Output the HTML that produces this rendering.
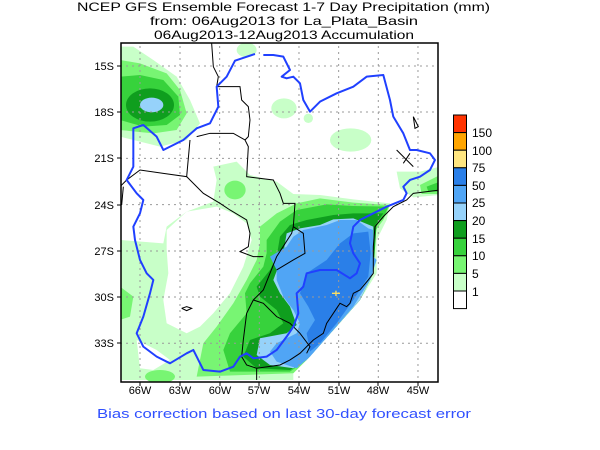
<!DOCTYPE html>
<html><head><meta charset="utf-8"><style>html,body{margin:0;padding:0;background:#fff}svg{display:block}</style></head>
<body>
<svg width="600" height="450" xmlns="http://www.w3.org/2000/svg" font-family="Liberation Sans, sans-serif">
<rect width="600" height="450" fill="#fff"/>
<g font-size="12" fill="#000">
<text x="77" y="11" textLength="413" lengthAdjust="spacingAndGlyphs">NCEP GFS Ensemble Forecast 1-7 Day Precipitation (mm)</text>
<text x="150" y="25" textLength="268" lengthAdjust="spacingAndGlyphs">from: 06Aug2013   for La_Plata_Basin</text>
<text x="154" y="39" textLength="260" lengthAdjust="spacingAndGlyphs">06Aug2013-12Aug2013 Accumulation</text>
</g>
<clipPath id="c"><rect x="121" y="43" width="317" height="339"/></clipPath>
<g clip-path="url(#c)">
<g transform="translate(120,40) scale(0.3333)">
<g fill="#c8ffc8">
<polygon points="0,20 40,20 100,60 170,110 210,180 240,250 200,300 120,320 0,290"/>
<ellipse cx="380" cy="30" rx="30" ry="22"/>
<ellipse cx="492" cy="205" rx="38" ry="30"/>
<ellipse cx="565" cy="235" rx="14" ry="14"/>
<ellipse cx="692" cy="300" rx="62" ry="35"/>
<polygon points="830,395 900,395 960,380 960,465 880,472 840,445"/>
<polygon points="0,600 130,610 140,560 200,515 280,485 290,420 280,380 350,365 390,405 470,425 520,462 600,465 700,478 810,490 800,540 770,600 770,700 720,780 640,870 560,960 520,1000 520,1020 0,1020"/>
</g>
<g fill="#fff">
<polygon points="140,630 140,570 200,515 290,500 340,520 380,550 395,600 370,680 330,760 280,820 240,860 200,880 140,850 130,780 145,700"/>
<polygon points="50,900 110,930 150,960 100,990 60,985"/>
</g>
<g fill="#78f573">
<polygon points="0,60 60,70 140,100 180,150 200,220 170,270 100,280 0,270"/>
<ellipse cx="345" cy="450" rx="32" ry="28"/>
<polygon points="0,740 40,770 30,830 0,840"/>
<ellipse cx="120" cy="1010" rx="45" ry="20"/>
<polygon points="900,435 960,405 960,462 905,462"/>
<polygon points="420,560 470,520 530,490 600,475 700,488 810,495 790,540 760,580 760,700 720,780 640,870 560,960 520,1000 230,1010 250,910 290,860 340,790 380,720 410,660 420,610"/>
</g>
<g fill="#37d23c">
<polygon points="0,110 60,105 130,120 175,170 180,225 140,255 70,260 0,240"/>
<polygon points="440,600 480,545 530,510 620,493 700,498 805,500 790,535 760,560 760,700 720,780 640,870 560,960 510,995 330,995 310,930 330,880 380,820 375,760 390,730 430,680 440,640"/>
<polygon points="920,440 960,425 960,455 925,455"/>
</g>
<g fill="#0f9e1e">
<ellipse cx="90" cy="195" rx="72" ry="50"/>
<polygon points="480,590 510,555 560,540 640,525 700,520 790,520 770,550 760,700 720,780 640,870 560,960 510,990 410,985 370,950 390,900 450,880 490,850 470,810 420,770 410,740 450,690 470,650"/>
</g>
<g fill="#96d2fa">
<ellipse cx="95" cy="195" rx="35" ry="22"/>
<polygon points="490,640 500,580 540,565 600,555 640,538 700,535 760,560 760,700 720,780 640,870 560,960 520,985 450,975 410,945 420,895 500,880 530,855 510,800 480,760 460,720 475,680"/>
</g>
<polygon fill="#50a5f5" points="450,650 500,620 520,590 550,570 620,555 660,540 710,540 745,565 760,570 760,650 770,660 750,720 700,800 640,870 570,950 530,985 470,965 450,935 470,910 530,880 540,850 520,810 490,770 470,720 470,690"/>
<polygon fill="#2a7fe8" points="540,760 560,700 620,660 660,610 700,580 745,575 752,640 745,710 700,780 650,850 600,910 570,935 560,880 585,840 565,800"/>
<g stroke="#999" stroke-width="3" stroke-dasharray="6,12">
<line x1="60" y1="0" x2="60" y2="1020"/><line x1="180" y1="0" x2="180" y2="1020"/><line x1="299" y1="0" x2="299" y2="1020"/><line x1="418" y1="0" x2="418" y2="1020"/><line x1="537" y1="0" x2="537" y2="1020"/><line x1="656" y1="0" x2="656" y2="1020"/><line x1="775" y1="0" x2="775" y2="1020"/><line x1="894" y1="0" x2="894" y2="1020"/>
<line x1="0" y1="78" x2="960" y2="78"/><line x1="0" y1="216" x2="960" y2="216"/><line x1="0" y1="355" x2="960" y2="355"/><line x1="0" y1="494" x2="960" y2="494"/><line x1="0" y1="633" x2="960" y2="633"/><line x1="0" y1="771" x2="960" y2="771"/><line x1="0" y1="910" x2="960" y2="910"/>
</g>
<g fill="none" stroke="#000" stroke-width="3">
<polyline points="275,10 280,80 295,110 290,140 360,140 365,180 385,200 390,240 385,290 375,300 385,320 380,410 460,420 480,460 490,490 525,490 520,560 515,580 470,650 450,700 430,750 400,780 380,820 370,900 365,950 380,975 410,985 410,1020"/>
<polyline points="230,290 270,280 340,280 375,300"/>
<polyline points="210,300 200,410 130,400 60,390 20,420 0,440"/>
<polyline points="200,410 250,460 300,490 330,510 380,540 390,580 385,620 360,635 400,650 430,650"/>
<polyline points="520,560 550,580 555,640 520,660 470,690"/>
<polyline points="400,780 430,790 470,830 510,850 540,880 570,920 560,940"/>
<polyline points="960,450 880,460 860,480 820,500 790,530 765,560 760,620 760,700 745,720 720,750 700,760 690,790 680,800 660,790 620,850 610,880 580,900 560,920 540,940 510,960 480,975 410,985"/>
<polyline points="880,230 895,260 885,265 880,230"/>
<polyline points="830,330 880,380"/><polyline points="850,370 870,340"/>
<polyline points="185,805 200,800 215,805 200,812 185,805"/>
<polyline points="5,495 10,440"/>
</g>
<g fill="none" stroke="#2040ff" stroke-width="6" stroke-linejoin="round">
<polyline points="405,42 345,62 320,110 290,140 295,200 270,250 230,265 190,300 130,330 110,290 70,255 40,265 40,300 40,380 20,420 50,460 70,480 60,520 40,560 45,600 60,660 80,700 100,720 90,760 70,830 50,880 70,920 110,950 150,970 200,940 220,930 250,990 300,995 340,980 360,950 380,940 400,955 440,950 470,930 500,890 520,860 535,820 530,760 550,740 560,700 600,690 650,690 690,715 710,700 720,670 700,640 690,610 700,560 720,540 760,520 800,500 850,480 860,460 850,440 870,420 900,410 930,390 945,360 930,340 890,330 870,330 850,280 820,230 810,180 790,105 740,110 700,140 650,160 600,185 570,215 550,180 540,130 520,110 500,115 485,110 510,90 490,50 460,45 430,45"/>
</g>
<g stroke="#ffe060" stroke-width="4"><line x1="636" y1="760" x2="660" y2="760"/><line x1="648" y1="752" x2="648" y2="768"/></g>
</g>
</g>
<rect x="121" y="43" width="317" height="339" fill="none" stroke="#000" stroke-width="1.5"/>
<g stroke="#000" stroke-width="1">
<line x1="117" y1="66" x2="121" y2="66"/><line x1="117" y1="112" x2="121" y2="112"/><line x1="117" y1="158" x2="121" y2="158"/><line x1="117" y1="205" x2="121" y2="205"/><line x1="117" y1="251" x2="121" y2="251"/><line x1="117" y1="297" x2="121" y2="297"/><line x1="117" y1="343" x2="121" y2="343"/>
<line x1="140" y1="382" x2="140" y2="386"/><line x1="180" y1="382" x2="180" y2="386"/><line x1="220" y1="382" x2="220" y2="386"/><line x1="259" y1="382" x2="259" y2="386"/><line x1="299" y1="382" x2="299" y2="386"/><line x1="339" y1="382" x2="339" y2="386"/><line x1="378" y1="382" x2="378" y2="386"/><line x1="418" y1="382" x2="418" y2="386"/>
</g>
<g font-size="11" fill="#000" text-anchor="end">
<text x="114" y="70">15S</text><text x="114" y="116">18S</text><text x="114" y="162">21S</text><text x="114" y="209">24S</text><text x="114" y="255">27S</text><text x="114" y="301">30S</text><text x="114" y="347">33S</text>
</g>
<g font-size="11" fill="#000" text-anchor="middle">
<text x="140" y="394">66W</text><text x="180" y="394">63W</text><text x="220" y="394">60W</text><text x="259" y="394">57W</text><text x="299" y="394">54W</text><text x="339" y="394">51W</text><text x="378" y="394">48W</text><text x="418" y="394">45W</text>
</g>
<g stroke="#000" stroke-width="1">
<rect x="453.5" y="115" width="13" height="17.6" fill="#ff3300"/>
<rect x="453.5" y="132.6" width="13" height="17.6" fill="#ffa500"/>
<rect x="453.5" y="150.2" width="13" height="17.6" fill="#ffe680"/>
<rect x="453.5" y="167.8" width="13" height="17.6" fill="#2a7fe8"/>
<rect x="453.5" y="185.4" width="13" height="17.6" fill="#50a5f5"/>
<rect x="453.5" y="203" width="13" height="17.6" fill="#96d2fa"/>
<rect x="453.5" y="220.6" width="13" height="17.6" fill="#0f9e1e"/>
<rect x="453.5" y="238.2" width="13" height="17.6" fill="#37d23c"/>
<rect x="453.5" y="255.8" width="13" height="17.6" fill="#78f573"/>
<rect x="453.5" y="273.4" width="13" height="17.6" fill="#c8ffc8"/>
<rect x="453.5" y="291" width="13" height="17.6" fill="#fff"/>
</g>
<g font-size="12" fill="#000">
<text x="472" y="137">150</text><text x="472" y="155">100</text><text x="472" y="172">75</text><text x="472" y="190">50</text><text x="472" y="207">25</text><text x="472" y="225">20</text><text x="472" y="243">15</text><text x="472" y="260">10</text><text x="472" y="278">5</text><text x="472" y="296">1</text>
</g>
<text x="97" y="418" font-size="13" fill="#3050ff" textLength="374" lengthAdjust="spacingAndGlyphs">Bias correction based on last 30-day forecast error</text>
</svg>
</body></html>
